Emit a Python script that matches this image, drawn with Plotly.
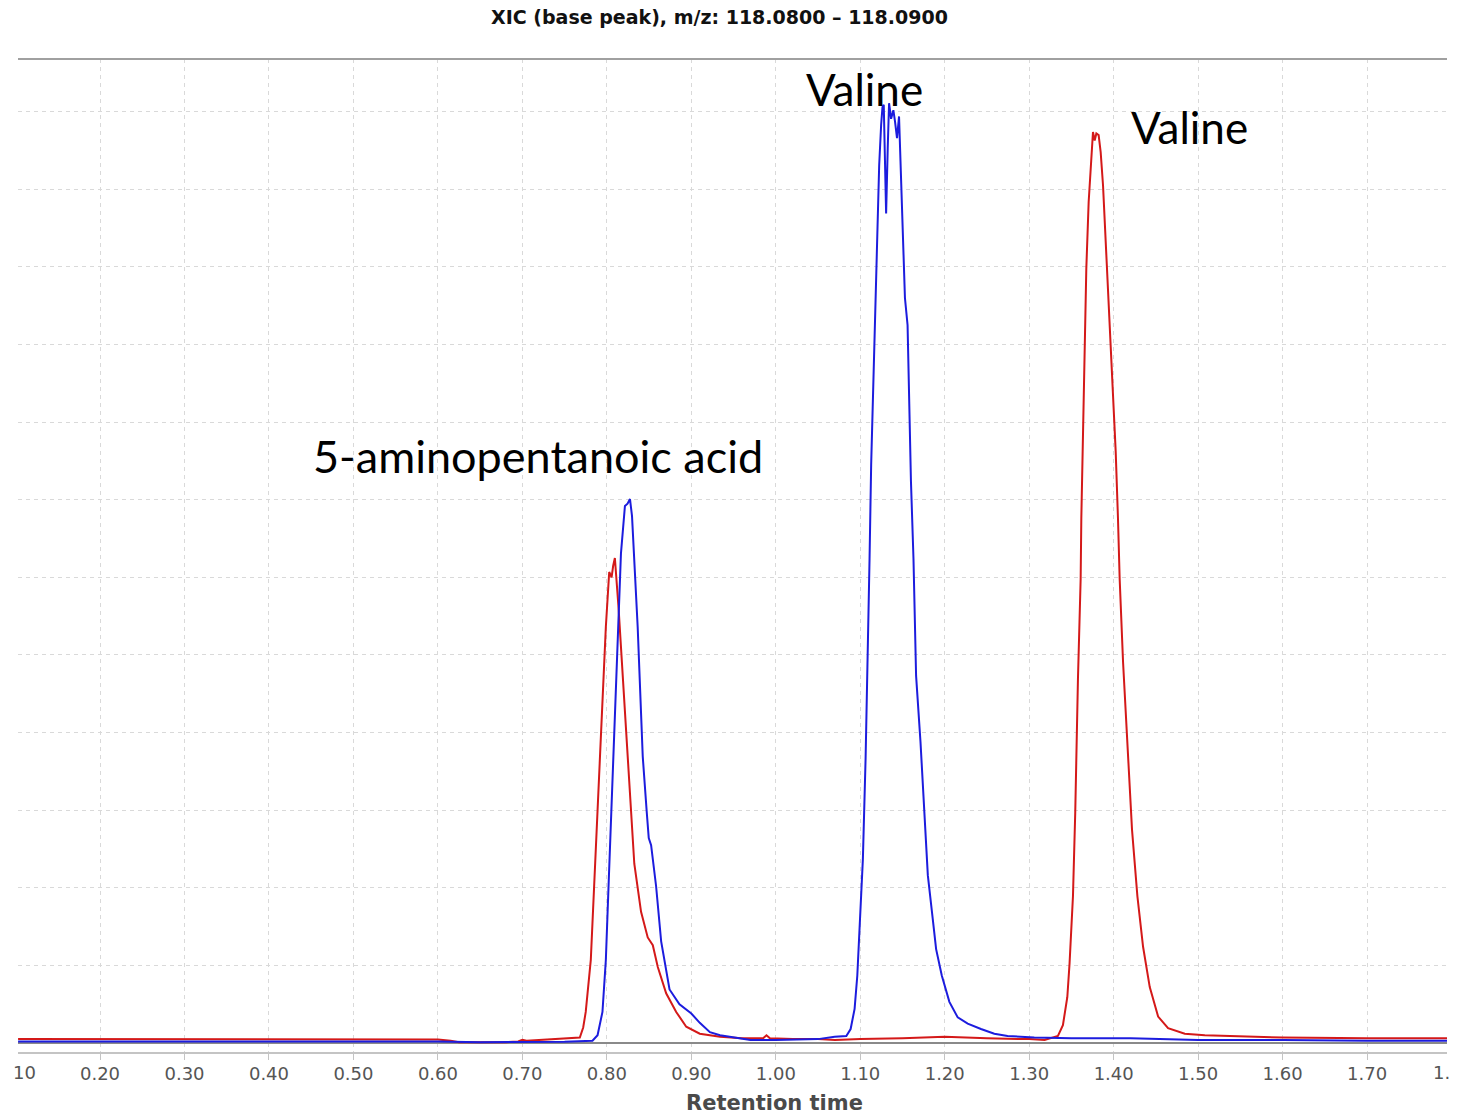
import plotly.graph_objects as go

# ---- data (retention time in min, intensity in grid units) ----
red_rt = [0.103, 0.20, 0.30, 0.40, 0.50, 0.55, 0.60, 0.615, 0.625, 0.65, 0.68, 0.695, 0.700, 0.705,
          0.72, 0.74, 0.76, 0.768, 0.772, 0.775, 0.781, 0.7869, 0.7929, 0.7988, 0.8028, 0.8056,
          0.8075, 0.8095, 0.8139, 0.8206, 0.8266, 0.8325, 0.8405, 0.8484, 0.8544, 0.8603, 0.8702,
          0.8821, 0.894, 0.91, 0.934, 0.96, 0.985, 0.989, 0.993, 1.02, 1.05, 1.07, 1.10, 1.15,
          1.20, 1.25, 1.30, 1.3182, 1.334, 1.3399, 1.3451, 1.3478, 1.3518, 1.3545, 1.3577,
          1.3609, 1.3617, 1.3637, 1.3657, 1.3676, 1.3704, 1.3736, 1.3755, 1.3775, 1.3795, 1.3822,
          1.3846, 1.3874, 1.3913, 1.3953, 1.3992, 1.4024, 1.4051, 1.4071, 1.4111, 1.4162, 1.4217,
          1.4281, 1.4348, 1.4427, 1.4526, 1.4644, 1.4842, 1.5079, 1.5553, 1.60, 1.70, 1.795]
red_int = [0.05, 0.05, 0.05, 0.05, 0.05, 0.05, 0.045, 0.03, 0.01, 0.01, 0.01, 0.02, 0.04, 0.03,
           0.04, 0.05, 0.06, 0.07, 0.20, 0.40, 1.07, 2.50, 3.93, 5.36, 6.07, 6.00,
           6.15, 6.25, 5.60, 4.40, 3.21, 2.31, 1.69, 1.36, 1.26, 0.98, 0.64,
           0.40, 0.21, 0.12, 0.08, 0.06, 0.06, 0.10, 0.06, 0.05, 0.05, 0.04, 0.05, 0.06,
           0.08, 0.06, 0.05, 0.04, 0.09, 0.23, 0.59, 1.03, 1.89, 2.97, 4.69,
           5.98, 6.76, 7.83, 8.91, 9.98, 10.84, 11.48, 11.74, 11.63, 11.72, 11.70,
           11.48, 11.05, 10.19, 9.33, 8.48, 7.62, 6.76, 5.98, 4.91, 3.83, 2.75,
           1.89, 1.24, 0.72, 0.34, 0.19, 0.12, 0.10, 0.08, 0.07, 0.06, 0.06]

blue_rt = [0.103, 0.60, 0.65, 0.70, 0.75, 0.783, 0.789, 0.7948, 0.7988, 0.802, 0.8067, 0.8107,
           0.8167, 0.8214, 0.8245, 0.8274, 0.8298, 0.8365, 0.8425, 0.8472, 0.8496, 0.8524,
           0.8583, 0.8643, 0.8742, 0.886, 0.90, 0.91, 0.922, 0.934, 0.95, 0.97, 1.00, 1.05,
           1.0697, 1.0835, 1.0886, 1.0933, 1.0965, 1.0992, 1.1031, 1.1063, 1.109, 1.111, 1.1129,
           1.1157, 1.1184, 1.1204, 1.1224, 1.1247, 1.1263, 1.1278, 1.1306, 1.1325, 1.1341,
           1.1365, 1.1392, 1.1412, 1.1435, 1.1459, 1.1482, 1.151, 1.1529, 1.156, 1.1576, 1.16,
           1.163, 1.1661, 1.1713, 1.1752, 1.18, 1.1858, 1.1898, 1.1965, 1.2055, 1.2154, 1.2272,
           1.2429, 1.2587, 1.2744, 1.306, 1.35, 1.42, 1.50, 1.60, 1.70, 1.795]
blue_int = [0.02, 0.02, 0.01, 0.01, 0.015, 0.03, 0.10, 0.40, 1.07, 2.02, 3.45, 4.40,
            6.31, 6.92, 6.95, 7.01, 6.79, 5.36, 3.69, 2.98, 2.64, 2.55,
            2.02, 1.31, 0.69, 0.50, 0.38, 0.26, 0.14, 0.10, 0.07, 0.04, 0.04, 0.05,
            0.08, 0.09, 0.18, 0.44, 0.87, 1.52, 2.37, 3.66, 4.95, 6.24, 7.45,
            8.52, 9.60, 10.45, 11.31, 11.83, 12.06, 12.09, 10.69, 11.53, 12.11,
            11.91, 12.02, 11.87, 11.66, 11.94, 11.10, 10.24, 9.60, 9.25, 8.31, 7.24,
            6.24, 4.73, 3.88, 3.02, 2.16, 1.60, 1.21, 0.87, 0.53, 0.33, 0.25,
            0.18, 0.12, 0.09, 0.07, 0.06, 0.06, 0.04, 0.04, 0.03, 0.03]

tick_vals = [0.2, 0.3, 0.4, 0.5, 0.6, 0.7, 0.8, 0.9, 1.0, 1.1, 1.2, 1.3, 1.4, 1.5, 1.6, 1.7]
tick_text = ["0.20", "0.30", "0.40", "0.50", "0.60", "0.70", "0.80", "0.90", "1.00",
             "1.10", "1.20", "1.30", "1.40", "1.50", "1.60", "1.70"]

peak_labels = ["Valine", "Valine", "5-aminopentanoic acid"]
peak_label_rt = [1.1045, 1.4892, 0.7185]
peak_label_int = [12.29, 11.80, 7.56]

title_text = "XIC (base peak), m/z: 118.0800 \u2013 118.0900"
x_title = "Retention time"

# ---- figure ----
fig = go.Figure()
fig.add_trace(go.Scatter(x=red_rt, y=red_int, mode="lines",
                         line=dict(color="rgb(212,25,25)", width=2), showlegend=False))
fig.add_trace(go.Scatter(x=blue_rt, y=blue_int, mode="lines",
                         line=dict(color="rgb(28,28,222)", width=2), showlegend=False))

W, H = 1470, 1120
L, R, T, B = 18, 23, 59, 68

fig.update_layout(
    width=W, height=H,
    margin=dict(l=L, r=R, t=T, b=B, pad=0),
    paper_bgcolor="white", plot_bgcolor="white",
    showlegend=False,
    xaxis=dict(range=[0.1029, 1.7946], tickvals=tick_vals, ticktext=tick_text,
               showgrid=True, gridcolor="#d9d9d9", gridwidth=1, griddash="4px,4px",
               showline=True, linecolor="#c4c4c4", linewidth=2,
               ticks="outside", ticklen=6, tickcolor="#c4c4c4", tickwidth=1,
               ticklabelstandoff=-2,
               tickfont=dict(family="DejaVu Sans", size=18, color="#555555"),
               zeroline=False),
    yaxis=dict(range=[-0.116, 12.68], dtick=1, tick0=0, showticklabels=False,
               showgrid=True, gridcolor="#d9d9d9", gridwidth=1, griddash="4px,4px",
               zeroline=True, zerolinecolor="#8a8a8a", zerolinewidth=1.5,
               showline=False, ticks=""),
)

# top border line
fig.add_shape(type="line", xref="paper", yref="paper", x0=0, x1=1, y0=1, y1=1,
              line=dict(color="#a0a0a0", width=2))

ann = []
for t, xv, yv, fs in zip(peak_labels, peak_label_rt, peak_label_int, [44, 44, 45]):
    ann.append(dict(text=t, x=xv, y=yv, xref="x", yref="y", showarrow=False,
                    xanchor="center", yanchor="middle",
                    font=dict(family="Lato", size=fs, color="black")))

pw = W - L - R
ph = H - T - B
# title
ann.append(dict(text="<b>" + title_text + "</b>", xref="paper", yref="paper",
                x=(719 - L) / pw, y=1 + (T - 17) / ph, xanchor="center", yanchor="middle",
                showarrow=False, font=dict(family="DejaVu Sans", size=19, color="#111111")))
# x axis title
ann.append(dict(text="<b>" + x_title + "</b>", xref="paper", yref="paper",
                x=(774 - L) / pw, y=-(1103 - (H - B)) / ph, xanchor="center", yanchor="middle",
                showarrow=False, font=dict(family="DejaVu Sans", size=21, color="#4a4a4a")))
# clipped edge tick labels
ann.append(dict(text="10", xref="paper", yref="paper", x=(38 - L) / pw,
                y=-(1072 - (H - B)) / ph, xanchor="right", yanchor="middle", showarrow=False,
                font=dict(family="DejaVu Sans", size=18, color="#555555")))
ann.append(dict(text="1.", xref="paper", yref="paper", x=(1431 - L) / pw,
                y=-(1072 - (H - B)) / ph, xanchor="left", yanchor="middle", showarrow=False,
                font=dict(family="DejaVu Sans", size=18, color="#555555")))
fig.update_layout(annotations=ann)

fig.write_html("out.html")
